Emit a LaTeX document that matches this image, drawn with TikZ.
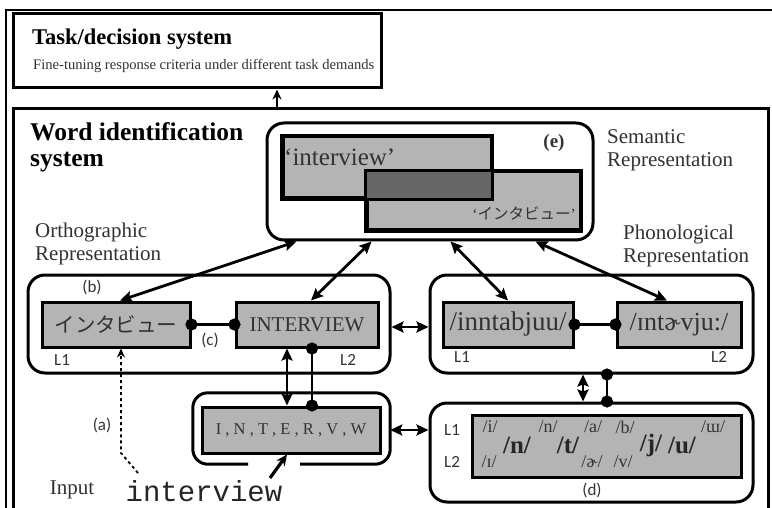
\documentclass[tikz,border=0pt]{standalone}
\usepackage{fontspec}
\setmainfont{Liberation Serif}
\newfontfamily\lblfont{Carlito}
\newfontfamily\jpfont{Noto Sans CJK JP}
\newfontfamily\codefont{Liberation Mono}
\usetikzlibrary{arrows.meta,calc}
\definecolor{boxgrey}{RGB}{180,180,180}
\definecolor{darkov}{RGB}{102,102,102}
\definecolor{txt}{RGB}{50,50,50}
\newcommand{\fs}[1]{\fontsize{#1}{#1}\selectfont}
\tikzset{
  bigbox/.style={draw, line width=3pt, rectangle, inner sep=0pt},
  rbox/.style={draw, line width=3pt, rounded corners=17pt, inner sep=0pt},
  gbox/.style={draw, line width=3pt, fill=boxgrey, inner sep=0pt},
  tipa/.tip={Stealth[length=12pt,width=11pt,inset=2pt]},
  darr/.style={line width=2.8pt, tipa-tipa},
  dotl/.style={line width=2.8pt, {Circle[length=12pt]}-{Circle[length=12pt]}, shorten <=-6pt, shorten >=-6pt},
  lbl/.style={font=\lblfont\fs{17}, text=txt, inner sep=0pt},
  head/.style={font=\bfseries\fs{22.5}, inner sep=0pt, anchor=west},
  rep/.style={font=\fontsize{21}{23}\selectfont, text=txt, inner sep=0pt, align=left, anchor=west},
  ipas/.style={font=\fs{18}, text=txt, inner sep=0pt},
  ipab/.style={font=\bfseries\fs{25}, text=black!85, inner sep=0pt},
}
\begin{document}
\begin{tikzpicture}[x=1pt,y=-1pt]
\useasboundingbox (0,0) rectangle (772,508);
\fill[white] (0,0) rectangle (772,508);
% image frame
\draw[line width=1.4pt] (6,510) -- (6,10) -- (774,10);

% task box
\node[bigbox, minimum width=368pt, minimum height=74pt] (task) at (197,51) {};
\node[head] (tasktitle) at (32,39) {Task/decision system};
\node[font=\fs{14.6}, text=txt, inner sep=0pt, anchor=west] (tasksub) at (33,66) {Fine-tuning response criteria under different task demands};

% word identification box
\node[bigbox, minimum width=755pt, minimum height=400pt] (word) at (390.5,309) {};
\node[head, align=left, anchor=west, font=\bfseries\fontsize{25.5}{26}\selectfont] (wordtitle) at (30,147) {Word identification\\system};
\coordinate (ta) at (277,0);
\draw[line width=2.8pt, -{Stealth[length=10pt,width=9pt]}] (word.north -| ta) -- (task.south -| ta);

% semantic
\node[rbox, minimum width=326pt, minimum height=117pt] (sem) at (430,181.5) {};
\node[gbox, minimum width=208pt, minimum height=61pt] (semA) at (387,167.5) {};
\node[gbox, minimum width=213pt, minimum height=58pt] (semB) at (473.5,201) {};
\fill[darkov] (semB.north west) rectangle (semA.south east);
\draw[line width=3pt] (semA.north west) rectangle (semA.south east);
\draw[line width=3pt] (semB.north west) rectangle (semB.south east);
\node[font=\fs{25}, text=txt, inner sep=0pt, anchor=west] (semAt) at (284,157) {‘interview’};
\node[font=\fs{15.5}, text=txt, inner sep=0pt] (semBt) at (524,213) {‘{\jpfont インタビュー}’};
\node[font=\bfseries\fs{19}, text=txt, inner sep=0pt] (le) at (554,143) {(e)};
\node[rep] (semlab) at (607,150) {Semantic\\Representation};
\node[rep] (ortlab) at (35,244) {Orthographic\\Representation};
\node[rep] (phlab) at (623,246) {Phonological\\Representation};

% orthographic
\node[rbox, minimum width=362pt, minimum height=98pt] (ort) at (209,324) {};
\node[gbox, minimum width=148pt, minimum height=45pt] (kata) at (116,324.5) {};
\node[font=\jpfont\fs{20.5}, text=txt, inner sep=0pt] (katat) at (kata) {インタビュー};
\node[gbox, minimum width=142pt, minimum height=45pt] (ivw) at (307,324.5) {};
\node[font=\fs{21}, text=txt, inner sep=0pt] (ivwt) at (ivw) {INTERVIEW};
\draw[dotl] (kata.east) -- (ivw.west);
\node[lbl] (lb) at (92,287) {(b)};
\node[lbl] (lc) at (210,340) {(c)};
\node[lbl] (o1) at (62,360) {L1};
\node[lbl] (o2) at (348,360) {L2};

% phonological
\node[rbox, minimum width=323pt, minimum height=98pt] (ph) at (591.5,324) {};
\node[gbox, minimum width=130pt, minimum height=45pt] (inn) at (508,324.5) {};
\node[font=\fs{27}, text=txt, inner sep=0pt] (innt) at (inn) {/inntabjuu/};
\node[gbox, minimum width=124pt, minimum height=45pt] (ipa) at (679,324.5) {};
\node[font=\fs{26}, text=txt, inner sep=0pt] (ipat) at (ipa) {/ɪntɚvju:/};
\draw[dotl] (inn.east) -- (ipa.west);
\node[lbl] (p1) at (462,357) {L1};
\node[lbl] (p2) at (719,357) {L2};

% letters
\node[minimum width=197pt, minimum height=71pt, inner sep=0pt] (let) at (291.5,428.5) {};
\draw[line width=3pt, rounded corners=15pt] ([xshift=-43.5pt]let.south) -| (let.north west) -| (let.south east) -- ([xshift=8.5pt]let.south);
\node[gbox, minimum width=178pt, minimum height=46pt] (letg) at (291,430) {};
\node[font=\fs{16.5}, text=txt, inner sep=0pt] (lett) at (letg) {I , N , T , E , R , V , W};

% d box
\node[rbox, minimum width=323pt, minimum height=99pt] (dbx) at (591.5,452.5) {};
\node[gbox, minimum width=269pt, minimum height=62pt] (dg) at (606.5,446) {};
\node[lbl] (d1) at (452,430) {L1};
\node[lbl] (d2) at (452,462) {L2};
\node[lbl] (ld) at (592,490) {(d)};
\node[ipas] at (490,427) {/i/};
\node[ipas] at (548,427) {/n/};
\node[ipas] at (593,427) {/a/};
\node[ipas] at (625,427) {/b/};
\node[ipas] at (713,427) {/ɯ/};
\node[ipab] at (517,445) {/n/};
\node[ipab] at (568,445) {/t/};
\node[ipab] at (651,445) {/j/};
\node[ipab] at (682,445) {/u/};
\node[ipas] at (489,462) {/ɪ/};
\node[ipas] at (592,462) {/ɚ/};
\node[ipas] at (623,462) {/v/};

% input
\node[font=\fs{21}, text=txt, inner sep=0pt] (inp) at (72,490) {Input};
\node[font=\codefont\fs{29}, text=black!85, inner sep=0pt] (inw) at (204,491) {interview};
\node[lbl] (la) at (102,425) {(a)};

% connectors
\draw[darr] ([xshift=4pt]kata.north) -- ([xshift=31pt]sem.south west);
\draw[darr] ([xshift=4pt]ivw.north) -- ([xshift=106pt]sem.south west);
\draw[darr] (inn.north) -- ([xshift=185pt]sem.south west);
\draw[darr] ([xshift=-12pt]ipa.north) -- ([xshift=270pt]sem.south west);
\coordinate (v1) at (287,0);
\coordinate (v2) at (312,0);
\draw[darr] (ivw.south -| v1) -- (letg.north -| v1);
\draw[dotl] (ivw.south -| v2) -- (letg.north -| v2);
\coordinate (v3) at (583,0);
\coordinate (v4) at (607,0);
\draw[darr] (ph.south -| v3) -- (dbx.north -| v3);
\draw[dotl] (ph.south -| v4) -- (dbx.north -| v4);
\draw[darr] ([yshift=-3pt]ort.east) -- ([yshift=-3pt]ph.west);
\coordinate (h1) at (0,430);
\draw[darr] (let.east |- h1) -- (dbx.west |- h1);
\coordinate (instart) at (270,478);
\draw[line width=3.2pt, -{Stealth[length=11pt,width=10pt]}] (instart) -- (letg.south -| v1);
\coordinate (astart) at (138,473);
\coordinate (abend) at (121,453);
\draw[line width=1.8pt, dashed, -{Stealth[length=9pt,width=8pt,open]}] (astart) -- (abend) -- (kata.south -| abend);
\end{tikzpicture}
\end{document}
